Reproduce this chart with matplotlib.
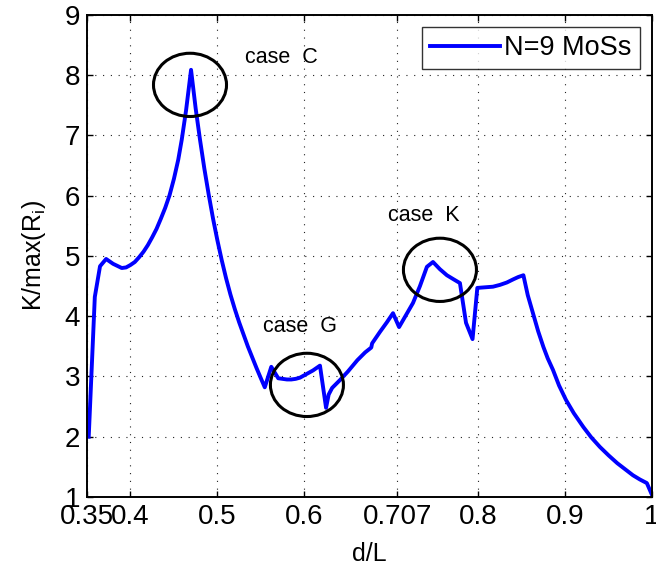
import matplotlib
matplotlib.use("Agg")
import matplotlib.pyplot as plt
from matplotlib.patches import Ellipse

plt.rcParams["font.family"] = ["Liberation Sans", "DejaVu Sans"]

# K/max(R_i) versus d/L for N=9 MoSs
d_over_L = [
    0.352, 0.359, 0.365, 0.372, 0.380, 0.390, 0.395, 0.400, 0.405, 0.410,
    0.415, 0.420, 0.425, 0.430, 0.435, 0.440, 0.445, 0.450, 0.455, 0.459,
    0.464, 0.4697, 0.475, 0.480, 0.485, 0.490, 0.495, 0.500, 0.505, 0.510,
    0.515, 0.520, 0.525, 0.530, 0.535, 0.540, 0.545, 0.550, 0.5545, 0.562,
    0.570, 0.575, 0.580, 0.585, 0.590, 0.595, 0.600, 0.605, 0.610, 0.614,
    0.618, 0.625, 0.628, 0.632, 0.641, 0.650, 0.661, 0.670, 0.677, 0.678,
    0.687, 0.695, 0.702, 0.709, 0.717, 0.725, 0.733, 0.741, 0.748, 0.756,
    0.764, 0.772, 0.779, 0.786, 0.7935, 0.799, 0.808, 0.817, 0.825, 0.833,
    0.840, 0.846, 0.852, 0.857, 0.863, 0.869, 0.875, 0.880, 0.886, 0.893,
    0.901, 0.910, 0.921, 0.930, 0.940, 0.950, 0.960, 0.969, 0.978, 0.986,
    0.994, 1.000,
]
k_ratio = [
    2.00, 4.32, 4.83, 4.95, 4.87, 4.80, 4.81, 4.85, 4.90, 4.98,
    5.07, 5.18, 5.31, 5.45, 5.62, 5.80, 6.01, 6.28, 6.60, 6.93,
    7.42, 8.09, 7.45, 6.93, 6.45, 6.02, 5.62, 5.26, 4.93, 4.63,
    4.36, 4.12, 3.90, 3.70, 3.50, 3.32, 3.14, 2.97, 2.82, 3.16,
    2.97, 2.96, 2.95, 2.95, 2.96, 2.98, 3.02, 3.06, 3.10, 3.14,
    3.18, 2.48, 2.70, 2.81, 2.94, 3.08, 3.27, 3.40, 3.48, 3.55,
    3.74, 3.90, 4.05, 3.82, 4.02, 4.22, 4.50, 4.82, 4.90, 4.78,
    4.68, 4.61, 4.55, 3.89, 3.62, 4.47, 4.48, 4.49, 4.52, 4.56,
    4.61, 4.65, 4.68, 4.35, 4.05, 3.75, 3.49, 3.30, 3.11, 2.85,
    2.61, 2.39, 2.16, 1.99, 1.83, 1.69, 1.56, 1.46, 1.36, 1.29,
    1.23, 1.03,
]

x_ticks = [0.35, 0.4, 0.5, 0.6, 0.707, 0.8, 0.9, 1.0]
x_tick_labels = ["0.35", "0.4", "0.5", "0.6", "0.707", "0.8", "0.9", "1"]
y_ticks = [1, 2, 3, 4, 5, 6, 7, 8, 9]

# highlighted cases: label, label position, circle centre
case_labels = ["case C", "case G", "case K"]
case_label_x = [0.5733, 0.595, 0.7372]
case_label_y = [8.20, 3.74, 5.58]
circle_x = [0.4685, 0.603, 0.756]
circle_y = [7.84, 2.86, 4.77]

fig = plt.figure(figsize=(6.56, 5.66), dpi=100)
ax = fig.add_axes([0.1326, 0.122, 0.8614, 0.8515])

ax.plot(d_over_L, k_ratio, color="#0000FF", lw=2.8, label="N=9 MoSs",
        solid_joinstyle="round")

for cx, cy in zip(circle_x, circle_y):
    ax.add_patch(Ellipse((cx, cy), width=0.084, height=1.05, fill=False,
                         edgecolor="black", lw=2.2, zorder=4))

for txt, tx, ty in zip(case_labels, case_label_x, case_label_y):
    ax.text(tx, ty, txt.replace(" ", "  "), ha="center", va="baseline",
            fontsize=15.5)

ax.set_xlim(0.35, 1.0)
ax.set_ylim(1, 9)
ax.set_xticks(x_ticks)
ax.set_xticklabels(x_tick_labels)
ax.set_yticks(y_ticks)

ax.grid(True, color="#222222", linestyle=(0, (1, 6)), lw=0.8)
ax.tick_params(direction="in", length=4.5, width=1.0, top=True, right=True,
               labelsize=20, pad=5, colors="black")
for s in ax.spines.values():
    s.set_linewidth(1.4)

ax.set_xlabel("d/L", fontsize=18, labelpad=9)
ax.set_ylabel("K/max(R$_\\mathregular{i}$)", fontsize=18, labelpad=12)

leg = ax.legend(loc="upper right", fontsize=19.5, frameon=True, fancybox=False,
                handlelength=2.6, handletextpad=0.15, borderpad=0.3,
                borderaxespad=0.45)
leg.get_frame().set_edgecolor("black")
leg.get_frame().set_linewidth(1.0)

fig.savefig("out.png", dpi=100)
